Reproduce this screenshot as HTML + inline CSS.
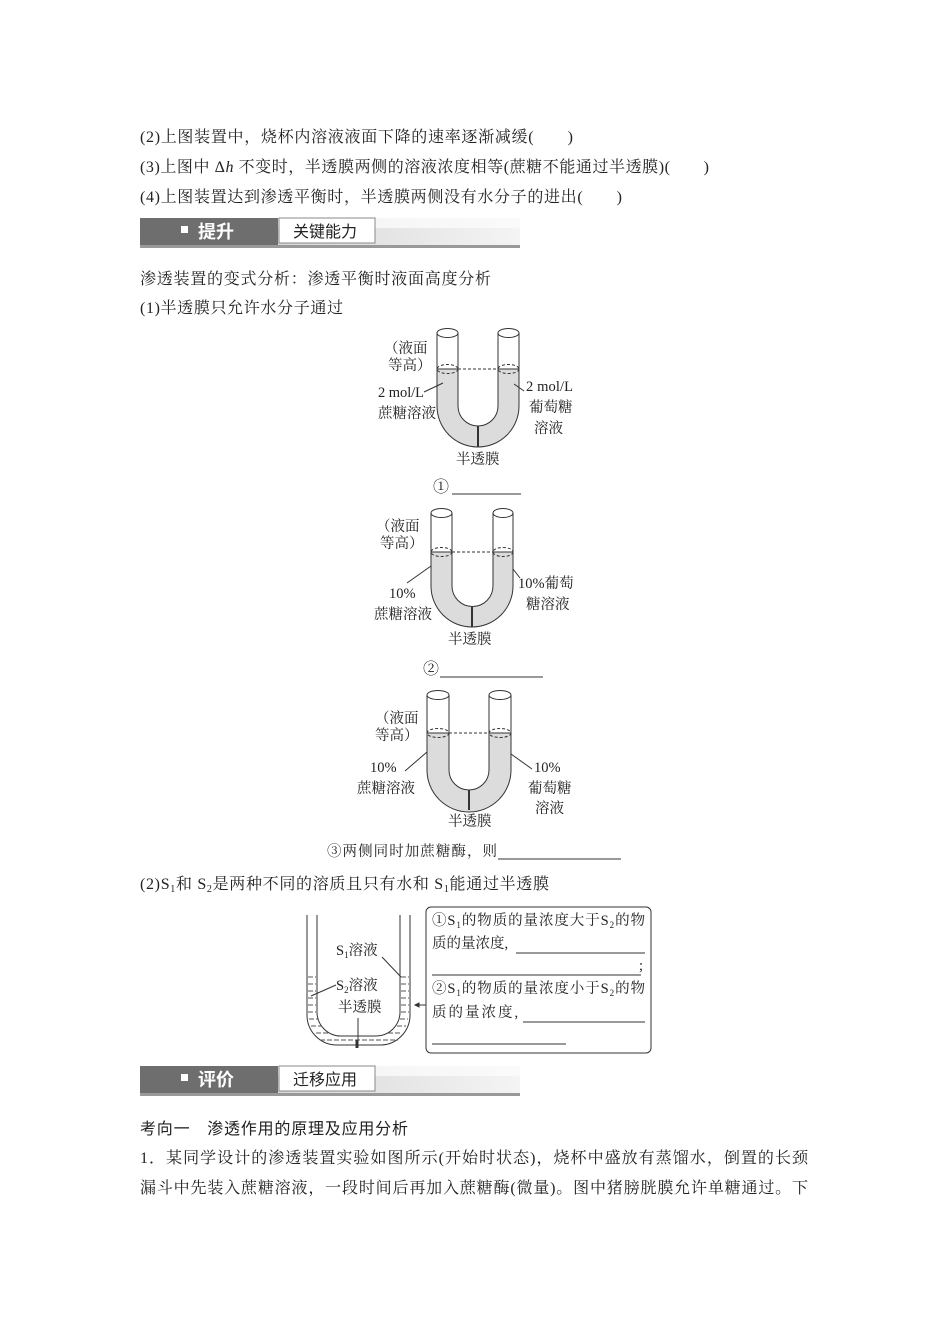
<!DOCTYPE html>
<html><head><meta charset="utf-8"><style>
html,body{margin:0;padding:0;background:#fff;}
svg{display:block;}
text{font-family:"Liberation Serif","Noto Serif CJK SC",serif;fill:#222;}
.s{font-family:"Liberation Sans","Noto Sans CJK SC",sans-serif;}
</style></head><body>
<svg width="950" height="1344" viewBox="0 0 950 1344" xmlns="http://www.w3.org/2000/svg">
<defs>
<linearGradient id="g" x1="0" x2="1"><stop offset="0" stop-color="#c8c8c8"/><stop offset="1" stop-color="#f4f4f4"/></linearGradient>
<linearGradient id="g2" x1="0" x2="1"><stop offset="0" stop-color="#f0f0f0"/><stop offset="1" stop-color="#fafafa"/></linearGradient>
</defs>
<g font-size="16">
<text x="140" y="142" textLength="433" lengthAdjust="spacing">(2)上图装置中，烧杯内溶液液面下降的速率逐渐减缓(　　)</text>
<text x="140" y="172" textLength="569" lengthAdjust="spacing">(3)上图中 Δ<tspan font-style="italic">h</tspan> 不变时，半透膜两侧的溶液浓度相等(蔗糖不能通过半透膜)(　　)</text>
<text x="140" y="202" textLength="482" lengthAdjust="spacing">(4)上图装置达到渗透平衡时，半透膜两侧没有水分子的进出(　　)</text>
</g>
<!-- header 1 -->
<rect x="140" y="218" width="380" height="30" fill="url(#g2)"/>
<rect x="140" y="228" width="380" height="19" fill="url(#g)"/>
<rect x="140" y="218" width="138" height="27" fill="#6e6e6e"/>
<rect x="140" y="245" width="380" height="3" fill="#999"/>
<rect x="279" y="218" width="96" height="25" fill="#fff" stroke="#888" stroke-width="1"/>
<rect x="181" y="226" width="7" height="7" fill="#fff"/>
<text class="s" x="198" y="238" font-size="18" font-weight="bold" style="fill:#fff">提升</text>
<text class="s" x="293" y="237" font-size="16">关键能力</text>

<g font-size="16">
<text x="140" y="284" textLength="351" lengthAdjust="spacing">渗透装置的变式分析：渗透平衡时液面高度分析</text>
<text x="140" y="313" textLength="203" lengthAdjust="spacing">(1)半透膜只允许水分子通过</text>
</g>

<!-- Tube 1 -->
<g stroke="#333" stroke-width="1" fill="none">
<path d="M437,369 L437,406 A41,41 0 0 0 519,406 L519,369 L498,369 L498,406 A20,20 0 0 1 458,406 L458,369 Z" fill="#dcdcdc"/>
<path d="M437,333 L437,369 M458,333 L458,369 M498,333 L498,369 M519,333 L519,369"/>
<ellipse cx="447.5" cy="333" rx="10.5" ry="4.5" fill="#fff"/>
<ellipse cx="508.5" cy="333" rx="10.5" ry="4.5" fill="#fff"/>
<ellipse cx="447.5" cy="369" rx="10.5" ry="4.5" stroke-dasharray="3,2"/>
<ellipse cx="508.5" cy="369" rx="10.5" ry="4.5" stroke-dasharray="3,2"/>
<path d="M458,369 L498,369" stroke-dasharray="3,2"/>
<path d="M478,426 L478,447" stroke-width="2"/>
<path d="M424,392 L443,383 M514,384 L524,391"/>
</g>
<g font-size="14.5">
<text x="384" y="353">（液面</text><text x="388" y="370">等高）</text>
<text x="378" y="397" textLength="46">2 mol/L</text><text x="378" y="418">蔗糖溶液</text>
<text x="526" y="391" textLength="47">2 mol/L</text><text x="529" y="412">葡萄糖</text><text x="534" y="433">溶液</text>
<text x="456" y="464">半透膜</text>
<text x="433" y="492" font-size="16">①</text>
</g>
<path d="M452,494 L521,494" stroke="#333"/>

<!-- Tube 2 -->
<g stroke="#333" stroke-width="1" fill="none">
<path d="M431,552 L431,586 A41,41 0 0 0 513,586 L513,552 L493,552 L493,586 A20.5,20.5 0 0 1 452,586 L452,552 Z" fill="#dcdcdc"/>
<path d="M431,513 L431,552 M452,513 L452,552 M493,513 L493,552 M513,513 L513,552"/>
<ellipse cx="441.5" cy="513" rx="10.5" ry="4.5" fill="#fff"/>
<ellipse cx="503" cy="513" rx="10" ry="4.5" fill="#fff"/>
<ellipse cx="441.5" cy="552" rx="10.5" ry="4.5" stroke-dasharray="3,2"/>
<ellipse cx="503" cy="552" rx="10" ry="4.5" stroke-dasharray="3,2"/>
<path d="M452,552 L493,552" stroke-dasharray="3,2"/>
<path d="M472,607 L472,627" stroke-width="2"/>
<path d="M407,583 L431,566 M513,569 L520,578"/>
</g>
<g font-size="14.5">
<text x="376" y="531">（液面</text><text x="380" y="548">等高）</text>
<text x="389" y="598">10%</text><text x="374" y="619">蔗糖溶液</text>
<text x="518" y="588">10%葡萄</text><text x="526" y="609">糖溶液</text>
<text x="448" y="644">半透膜</text>
<text x="423" y="674" font-size="16">②</text>
</g>
<path d="M440,677 L543,677" stroke="#333"/>

<!-- Tube 3 -->
<g stroke="#333" stroke-width="1" fill="none">
<path d="M427,733 L427,770 A42,42 0 0 0 511,770 L511,733 L489,733 L489,770 A20,20 0 0 1 449,770 L449,733 Z" fill="#dcdcdc"/>
<path d="M427,695 L427,733 M449,695 L449,733 M489,695 L489,733 M511,695 L511,733"/>
<ellipse cx="438" cy="695" rx="11" ry="4.5" fill="#fff"/>
<ellipse cx="500" cy="695" rx="11" ry="4.5" fill="#fff"/>
<ellipse cx="438" cy="733" rx="11" ry="4.5" stroke-dasharray="3,2"/>
<ellipse cx="500" cy="733" rx="11" ry="4.5" stroke-dasharray="3,2"/>
<path d="M449,733 L489,733" stroke-dasharray="3,2"/>
<path d="M469,790 L469,810" stroke-width="2"/>
<path d="M405,771 L427,752 M511,754 L532,769"/>
</g>
<g font-size="14.5">
<text x="375" y="723">（液面</text><text x="375" y="740">等高）</text>
<text x="370" y="772">10%</text><text x="357" y="793">蔗糖溶液</text>
<text x="534" y="772">10%</text><text x="528" y="793">葡萄糖</text><text x="535" y="813">溶液</text>
<text x="448" y="826">半透膜</text>
<text x="327" y="856" textLength="170" lengthAdjust="spacing">③两侧同时加蔗糖酶，则</text>
</g>
<path d="M498,859 L621,859" stroke="#333"/>

<text x="140" y="889" font-size="16" textLength="409" lengthAdjust="spacing">(2)S<tspan font-size="10" dy="3">1</tspan><tspan dy="-3">和 S</tspan><tspan font-size="10" dy="3">2</tspan><tspan dy="-3">是两种不同的溶质且只有水和 S</tspan><tspan font-size="10" dy="3">1</tspan><tspan dy="-3">能通过半透膜</tspan></text>

<!-- S1/S2 beaker -->
<g stroke="#333" stroke-width="1" fill="none">
<path d="M307,915 L307,1015 A30,30 0 0 0 337,1045 L380,1045 A30,30 0 0 0 410,1015 L410,915"/>
<path d="M317,915 L317,1012 A24,24 0 0 0 341,1036 L376,1036 A24,24 0 0 0 400,1012 L400,915"/>
<g stroke-dasharray="5,2" stroke="#555">
<path d="M308,977 L316,977 M308,984 L316,984 M308,991 L316,991 M308,998 L316,998 M308,1005 L316,1005 M308,1012 L316,1012 M309,1019 L318,1019 M311,1026 L321,1026 M316,1033 L330,1033 M320,1040 L398,1040"/>
<path d="M401,977 L409,977 M401,984 L409,984 M401,991 L409,991 M401,998 L409,998 M401,1005 L409,1005 M401,1012 L409,1012 M400,1019 L408,1019 M397,1026 L406,1026 M388,1033 L402,1033"/>
</g>
<path d="M358,1018 L358,1048" stroke-width="1"/>
<path d="M357,1040 L357,1048" stroke-width="3"/>
<path d="M382,957 L401,977 M311,996 L336,985"/>
<path d="M426,1005 L415,1005"/>
<path d="M415,1005 L419,1003 L419,1007 Z" fill="#333"/>
<rect x="426" y="907" width="225" height="146" rx="5"/>
</g>
<g font-size="14.5">
<text x="336" y="955">S<tspan font-size="9" dy="3">1</tspan><tspan dy="-3">溶液</tspan></text>
<text x="336" y="990">S<tspan font-size="9" dy="3">2</tspan><tspan dy="-3">溶液</tspan></text>
<text x="338" y="1012">半透膜</text>
<text x="432" y="925" textLength="213" lengthAdjust="spacing">①S<tspan font-size="9" dy="3">1</tspan><tspan dy="-3">的物质的量浓度大于S</tspan><tspan font-size="9" dy="3">2</tspan><tspan dy="-3">的物</tspan></text>
<text x="432" y="948">质的量浓度,</text>
<text x="639" y="970">;</text>
<text x="432" y="993" textLength="213" lengthAdjust="spacing">②S<tspan font-size="9" dy="3">1</tspan><tspan dy="-3">的物质的量浓度小于S</tspan><tspan font-size="9" dy="3">2</tspan><tspan dy="-3">的物</tspan></text>
<text x="432" y="1017" letter-spacing="2">质的量浓度,</text>
</g>
<g stroke="#333"><path d="M516,953 L645,953 M432,975 L641,975 M523,1022 L645,1022 M432,1044 L566,1044"/></g>

<!-- header 2 -->
<rect x="140" y="1066" width="380" height="30" fill="url(#g2)"/>
<rect x="140" y="1076" width="380" height="19" fill="url(#g)"/>
<rect x="140" y="1066" width="138" height="27" fill="#6e6e6e"/>
<rect x="140" y="1093" width="380" height="3" fill="#999"/>
<rect x="279" y="1066" width="96" height="25" fill="#fff" stroke="#888" stroke-width="1"/>
<rect x="181" y="1074" width="7" height="7" fill="#fff"/>
<text class="s" x="198" y="1086" font-size="18" font-weight="bold" style="fill:#fff">评价</text>
<text class="s" x="293" y="1085" font-size="16">迁移应用</text>

<text class="s" x="140" y="1134" font-size="16" textLength="268" lengthAdjust="spacing">考向一　渗透作用的原理及应用分析</text>
<g font-size="16">
<text x="140" y="1163" textLength="668" lengthAdjust="spacing">1．某同学设计的渗透装置实验如图所示(开始时状态)，烧杯中盛放有蒸馏水，倒置的长颈</text>
<text x="140" y="1193" textLength="668" lengthAdjust="spacing">漏斗中先装入蔗糖溶液，一段时间后再加入蔗糖酶(微量)。图中猪膀胱膜允许单糖通过。下</text>
</g>
</svg>
</body></html>
